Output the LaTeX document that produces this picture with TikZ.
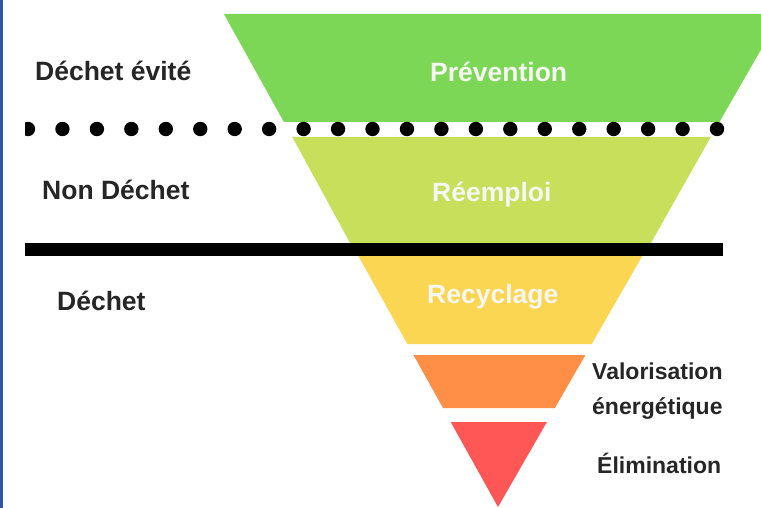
\documentclass[tikz,border=0pt]{standalone}
\usepackage{fontspec}
\setmainfont{Liberation Sans}
\definecolor{gA}{HTML}{7DD756}
\definecolor{gB}{HTML}{C8DF5C}
\definecolor{yC}{HTML}{FAD652}
\definecolor{oD}{HTML}{FF8F47}
\definecolor{rE}{HTML}{FF5656}
\definecolor{edgeblue}{HTML}{2F56A3}
\definecolor{ink}{HTML}{262626}
\definecolor{paleink}{HTML}{F6F6F2}
\tikzset{
  band/.style={draw=none},
  sidelabel/.style={anchor=base west, inner sep=0pt, text=ink, font=\bfseries\fontsize{26.5}{30}\selectfont},
  innerlabel/.style={anchor=base west, inner sep=0pt, text=paleink, font=\bfseries\fontsize{26.5}{30}\selectfont},
  rightlabel/.style={anchor=base west, inner sep=0pt, text=ink, font=\bfseries\fontsize{23}{35}\selectfont},
  dot/.style={fill=black, draw=none}
}
\begin{document}
\begin{tikzpicture}[x=1pt,y=-1pt]
\useasboundingbox (0,0) rectangle (761,508);
\fill[white] (0,0) rectangle (761,508);
\begin{scope}
\clip (0,0) rectangle (761,508);
% pyramid bands
\fill[gA] (223.9,14) -- (781.5,14) -- (719.4,122) -- (283.9,122) -- cycle;
\fill[gB] (292.3,137) -- (710.8,137) -- (649.8,245) -- (351.2,245) -- cycle;
\fill[yC] (358.4,256) -- (642.3,256) -- (591.7,344) -- (407.4,344) -- cycle;
\fill[oD] (413.5,355) -- (585.4,355) -- (554.9,408) -- (443.0,408) -- cycle;
\fill[rE] (450.7,422) -- (546.9,422) -- (498,507) -- cycle;
% dotted separator
\begin{scope}
\clip (25,100) rectangle (761,160);
\foreach \i in {0,...,20} {
  \fill[dot] ({28+34.45*\i},129) circle (7.2);
}
\end{scope}
% solid separator
\fill[black] (25,243) rectangle (723,256);
\end{scope}
% left blue edge
\fill[edgeblue] (0,0) rectangle (3,508);
% labels
\node[sidelabel] (evite) at (35,81) {Déchet évité};
\node[sidelabel] (nondechet) at (42,200) {Non Déchet};
\node[sidelabel] (dechet) at (57,310) {Déchet};
\node[innerlabel] (prevention) at (430,82) {Prévention};
\node[innerlabel] (reemploi) at (432,201) {Réemploi};
\node[innerlabel] (recyclage) at (427,303) {Recyclage};
\node[rightlabel, align=left] (valorisation) at (592,414) {Valorisation\\énergétique};
\node[rightlabel] (elimination) at (597,473) {Élimination};
\end{tikzpicture}
\end{document}
